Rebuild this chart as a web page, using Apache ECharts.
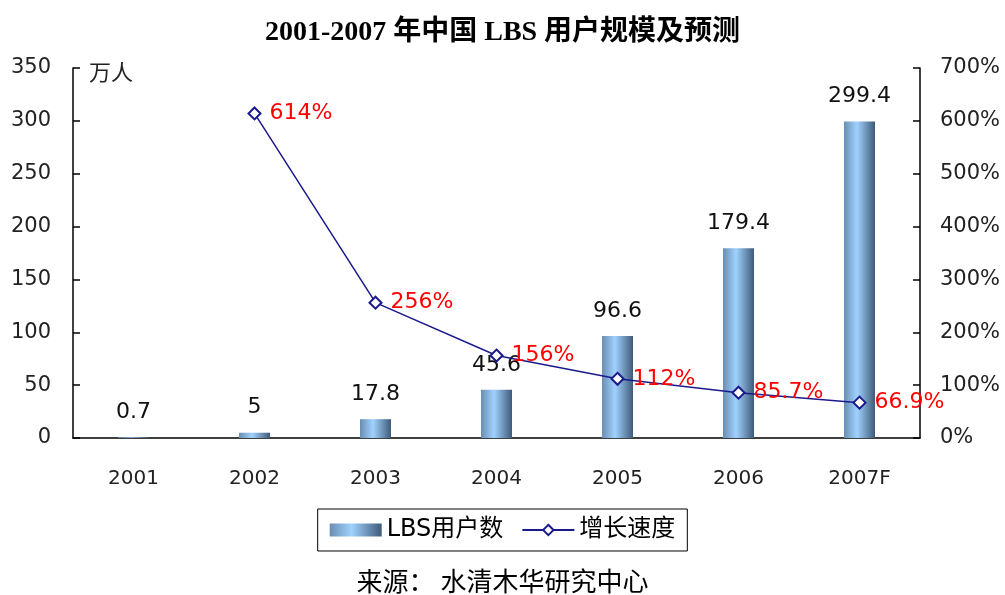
<!DOCTYPE html>
<html>
<head>
<meta charset="utf-8">
<script src="https://cdn.jsdelivr.net/npm/echarts@6/dist/echarts.min.js"></script>
<style>html,body{margin:0;padding:0;background:#fff;}#c{width:1005px;height:595px;}</style>
</head>
<body>
<div id="c"></div>
<script>
const categories = ['2001', '2002', '2003', '2004', '2005', '2006', '2007F'];
const users = [0.7, 5, 17.8, 45.6, 96.6, 179.4, 299.4];
const growth = [null, 614, 256, 156, 112, 85.7, 66.9];
const leftTicks = {min: 0, max: 350, interval: 50};
const rightTicks = {min: 0, max: 700, interval: 100};

const chart = echarts.init(document.getElementById('c'));
const axisFont = 'DejaVu Sans, Noto Sans CJK SC, sans-serif';
const barGrad = new echarts.graphic.LinearGradient(0, 0, 1, 0, [
  {offset: 0, color: '#6a8db2'},
  {offset: 0.42, color: '#a0d2ff'},
  {offset: 1, color: '#3f5a78'}
]);
chart.setOption({
  animation: false,
  backgroundColor: '#fff',
  title: [{
    text: '2001-2007 年中国 LBS 用户规模及预测',
    left: 'center', top: 14,
    textStyle: {fontFamily: 'Liberation Serif, Noto Sans CJK SC, serif', fontWeight: 'bold', fontSize: 28, color: '#000'}
  }, {
    text: '来源： 水清木华研究中心',
    left: 'center', top: 563,
    textStyle: {fontFamily: 'Noto Sans CJK SC, sans-serif', fontWeight: 'normal', fontSize: 26, color: '#000'}
  }],
  legend: {
    top: 509, left: 'center',
    orient: 'horizontal',
    borderColor: '#000', borderWidth: 1,
    padding: [9, 12, 9, 12],
    itemWidth: 52, itemHeight: 13, itemGap: 18,
    textStyle: {fontFamily: axisFont, fontSize: 24, color: '#000'},
    data: [{name: 'LBS用户数', icon: 'rect'}, {name: '增长速度'}]
  },
  grid: {left: 73, right: 85, top: 68, bottom: 157},
  xAxis: {
    type: 'category', data: categories, boundaryGap: true,
    axisLine: {lineStyle: {color: '#000', width: 1.5}},
    axisTick: {inside: true, length: 7, lineStyle: {color: '#000', width: 1.5}},
    axisLabel: {margin: 31, fontFamily: axisFont, fontSize: 20, color: '#222'}
  },
  yAxis: [{
    type: 'value', min: leftTicks.min, max: leftTicks.max, interval: leftTicks.interval,
    name: '万人', nameLocation: 'end', nameGap: -4,
    nameTextStyle: {fontFamily: 'Noto Sans CJK SC, sans-serif', fontSize: 22, color: '#222', align: 'left', verticalAlign: 'middle', padding: [0, 0, 0, 16]},
    axisLine: {show: true, lineStyle: {color: '#000', width: 1.5}},
    axisTick: {show: true, inside: true, length: 7, lineStyle: {color: '#000', width: 1.5}},
    splitLine: {show: false},
    axisLabel: {margin: 22, fontFamily: axisFont, fontSize: 21, color: '#222'}
  }, {
    type: 'value', min: rightTicks.min, max: rightTicks.max, interval: rightTicks.interval,
    position: 'right',
    axisLine: {show: true, lineStyle: {color: '#000', width: 1.5}},
    axisTick: {show: true, inside: true, length: 7, lineStyle: {color: '#000', width: 1.5}},
    splitLine: {show: false},
    axisLabel: {margin: 20, fontFamily: axisFont, fontSize: 21, color: '#222', formatter: '{value}%'}
  }],
  series: [{
    name: 'LBS用户数', type: 'bar', data: users, barWidth: 31, yAxisIndex: 0,
    itemStyle: {color: barGrad},
    label: {show: true, position: 'top', distance: 14, fontFamily: axisFont, fontSize: 22, color: '#111'}
  }, {
    name: '增长速度', type: 'line', data: growth, yAxisIndex: 1,
    symbol: 'emptyDiamond', symbolSize: 12,
    lineStyle: {color: '#1a1a8c', width: 1.5},
    itemStyle: {color: '#1a1a8c', borderColor: '#1a1a8c', borderWidth: 1.5},
    label: {show: true, position: 'right', distance: 8, fontFamily: axisFont, fontSize: 22, color: '#ff0000', formatter: '{c}%'},
    z: 5
  }]
});
</script>
</body>
</html>
